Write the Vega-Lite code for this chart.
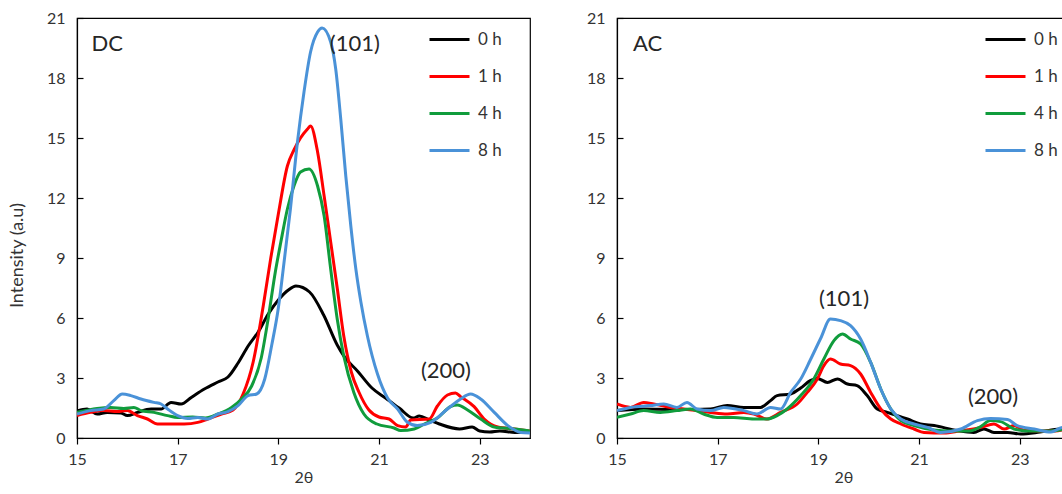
{
"$schema": "https://vega.github.io/schema/vega-lite/v6.json",
"background": "white",
"padding": {"left": 7, "top": 9, "right": 0, "bottom": 0},
"spacing": 54,
"config": {
  "font": "Lato",
  "view": {"stroke": "#000", "strokeWidth": 1.2},
  "axis": {"grid": false, "labelFlush": false, "domainColor": "#000", "domainWidth": 1.2, "tickColor": "#000", "tickWidth": 1.2, "labelFont": "Lato", "labelFontSize": 16, "labelColor": "#333", "titleFont": "Lato", "titleFontWeight": "normal", "titleColor": "#333"},
  "axisY": {"tickSize": -6, "labelPadding": 18, "titleFontSize": 18, "titlePadding": 11},
  "axisX": {"tickSize": 6, "labelPadding": 7, "titleFontSize": 16, "titlePadding": 2},
  "legend": {"orient": "none", "symbolType": "stroke", "symbolStrokeWidth": 3, "symbolSize": 1600, "labelFont": "Lato", "labelFontSize": 17, "labelColor": "#333", "labelOffset": 7, "rowPadding": 7}
},
"resolve": {"legend": {"color": "independent"}},
"datasets": {
  "dc": [
    {"t":15,"i":1.35,"s":"0 h"},{"t":15.2,"i":1.45,"s":"0 h"},{"t":15.4,"i":1.2,"s":"0 h"},{"t":15.6,"i":1.28,"s":"0 h"},{"t":15.87,"i":1.25,"s":"0 h"},{"t":16,"i":1.12,"s":"0 h"},{"t":16.2,"i":1.28,"s":"0 h"},{"t":16.47,"i":1.45,"s":"0 h"},{"t":16.67,"i":1.45,"s":"0 h"},{"t":16.87,"i":1.78,"s":"0 h"},{"t":17.07,"i":1.7,"s":"0 h"},{"t":17.27,"i":2.03,"s":"0 h"},{"t":17.53,"i":2.45,"s":"0 h"},{"t":17.8,"i":2.8,"s":"0 h"},{"t":18,"i":3.05,"s":"0 h"},{"t":18.2,"i":3.75,"s":"0 h"},{"t":18.4,"i":4.6,"s":"0 h"},{"t":18.6,"i":5.3,"s":"0 h"},{"t":18.8,"i":6.2,"s":"0 h"},{"t":19,"i":6.9,"s":"0 h"},{"t":19.2,"i":7.4,"s":"0 h"},{"t":19.35,"i":7.6,"s":"0 h"},{"t":19.62,"i":7.3,"s":"0 h"},{"t":19.9,"i":6.15,"s":"0 h"},{"t":20.17,"i":4.65,"s":"0 h"},{"t":20.31,"i":4.07,"s":"0 h"},{"t":20.58,"i":3.33,"s":"0 h"},{"t":20.86,"i":2.5,"s":"0 h"},{"t":21.13,"i":2.0,"s":"0 h"},{"t":21.4,"i":1.5,"s":"0 h"},{"t":21.68,"i":1.0,"s":"0 h"},{"t":21.8,"i":1.1,"s":"0 h"},{"t":22,"i":0.9,"s":"0 h"},{"t":22.2,"i":0.7,"s":"0 h"},{"t":22.6,"i":0.45,"s":"0 h"},{"t":22.85,"i":0.55,"s":"0 h"},{"t":23,"i":0.35,"s":"0 h"},{"t":23.2,"i":0.3,"s":"0 h"},{"t":23.4,"i":0.35,"s":"0 h"},{"t":23.7,"i":0.28,"s":"0 h"},{"t":24,"i":0.3,"s":"0 h"},
    {"t":15,"i":1.12,"s":"1 h"},{"t":15.27,"i":1.28,"s":"1 h"},{"t":15.53,"i":1.37,"s":"1 h"},{"t":15.8,"i":1.32,"s":"1 h"},{"t":16,"i":1.37,"s":"1 h"},{"t":16.2,"i":1.12,"s":"1 h"},{"t":16.4,"i":0.95,"s":"1 h"},{"t":16.6,"i":0.7,"s":"1 h"},{"t":16.87,"i":0.7,"s":"1 h"},{"t":17.13,"i":0.7,"s":"1 h"},{"t":17.4,"i":0.78,"s":"1 h"},{"t":17.6,"i":0.95,"s":"1 h"},{"t":17.87,"i":1.2,"s":"1 h"},{"t":18.1,"i":1.4,"s":"1 h"},{"t":18.3,"i":2.2,"s":"1 h"},{"t":18.5,"i":3.8,"s":"1 h"},{"t":18.7,"i":6.6,"s":"1 h"},{"t":18.85,"i":9.0,"s":"1 h"},{"t":19,"i":11.2,"s":"1 h"},{"t":19.18,"i":13.6,"s":"1 h"},{"t":19.31,"i":14.4,"s":"1 h"},{"t":19.44,"i":15.0,"s":"1 h"},{"t":19.58,"i":15.45,"s":"1 h"},{"t":19.64,"i":15.6,"s":"1 h"},{"t":19.78,"i":14.3,"s":"1 h"},{"t":19.91,"i":12.1,"s":"1 h"},{"t":20.04,"i":9.8,"s":"1 h"},{"t":20.17,"i":7.5,"s":"1 h"},{"t":20.3,"i":5.1,"s":"1 h"},{"t":20.45,"i":3.3,"s":"1 h"},{"t":20.6,"i":2.3,"s":"1 h"},{"t":20.8,"i":1.4,"s":"1 h"},{"t":21,"i":1.05,"s":"1 h"},{"t":21.2,"i":0.95,"s":"1 h"},{"t":21.37,"i":0.62,"s":"1 h"},{"t":21.53,"i":0.55,"s":"1 h"},{"t":21.63,"i":0.9,"s":"1 h"},{"t":22,"i":0.95,"s":"1 h"},{"t":22.16,"i":1.6,"s":"1 h"},{"t":22.36,"i":2.15,"s":"1 h"},{"t":22.52,"i":2.25,"s":"1 h"},{"t":22.62,"i":2.07,"s":"1 h"},{"t":22.89,"i":1.57,"s":"1 h"},{"t":23.09,"i":0.95,"s":"1 h"},{"t":23.36,"i":0.55,"s":"1 h"},{"t":23.69,"i":0.45,"s":"1 h"},{"t":24,"i":0.35,"s":"1 h"},
    {"t":15,"i":1.28,"s":"4 h"},{"t":15.4,"i":1.48,"s":"4 h"},{"t":15.67,"i":1.53,"s":"4 h"},{"t":15.93,"i":1.48,"s":"4 h"},{"t":16.13,"i":1.53,"s":"4 h"},{"t":16.27,"i":1.37,"s":"4 h"},{"t":16.53,"i":1.28,"s":"4 h"},{"t":16.8,"i":1.12,"s":"4 h"},{"t":17,"i":1.03,"s":"4 h"},{"t":17.3,"i":1.05,"s":"4 h"},{"t":17.55,"i":1.0,"s":"4 h"},{"t":17.8,"i":1.2,"s":"4 h"},{"t":18.07,"i":1.53,"s":"4 h"},{"t":18.27,"i":1.95,"s":"4 h"},{"t":18.47,"i":2.6,"s":"4 h"},{"t":18.66,"i":4.0,"s":"4 h"},{"t":18.8,"i":6.0,"s":"4 h"},{"t":18.94,"i":8.3,"s":"4 h"},{"t":19.05,"i":9.8,"s":"4 h"},{"t":19.18,"i":11.45,"s":"4 h"},{"t":19.31,"i":12.6,"s":"4 h"},{"t":19.44,"i":13.3,"s":"4 h"},{"t":19.61,"i":13.45,"s":"4 h"},{"t":19.78,"i":12.6,"s":"4 h"},{"t":19.91,"i":11.1,"s":"4 h"},{"t":20.04,"i":8.45,"s":"4 h"},{"t":20.17,"i":5.95,"s":"4 h"},{"t":20.3,"i":4.1,"s":"4 h"},{"t":20.5,"i":2.28,"s":"4 h"},{"t":20.7,"i":1.2,"s":"4 h"},{"t":20.96,"i":0.7,"s":"4 h"},{"t":21.3,"i":0.5,"s":"4 h"},{"t":21.43,"i":0.37,"s":"4 h"},{"t":21.7,"i":0.45,"s":"4 h"},{"t":21.9,"i":0.7,"s":"4 h"},{"t":22.16,"i":1.0,"s":"4 h"},{"t":22.42,"i":1.57,"s":"4 h"},{"t":22.56,"i":1.65,"s":"4 h"},{"t":22.76,"i":1.4,"s":"4 h"},{"t":23.02,"i":0.95,"s":"4 h"},{"t":23.29,"i":0.55,"s":"4 h"},{"t":23.69,"i":0.45,"s":"4 h"},{"t":24,"i":0.35,"s":"4 h"},
    {"t":15,"i":1.2,"s":"8 h"},{"t":15.27,"i":1.37,"s":"8 h"},{"t":15.53,"i":1.45,"s":"8 h"},{"t":15.73,"i":1.87,"s":"8 h"},{"t":15.9,"i":2.2,"s":"8 h"},{"t":16.07,"i":2.12,"s":"8 h"},{"t":16.27,"i":1.95,"s":"8 h"},{"t":16.53,"i":1.78,"s":"8 h"},{"t":16.67,"i":1.7,"s":"8 h"},{"t":16.8,"i":1.45,"s":"8 h"},{"t":17,"i":1.12,"s":"8 h"},{"t":17.2,"i":0.98,"s":"8 h"},{"t":17.4,"i":1.03,"s":"8 h"},{"t":17.6,"i":0.95,"s":"8 h"},{"t":17.8,"i":1.2,"s":"8 h"},{"t":18,"i":1.32,"s":"8 h"},{"t":18.2,"i":1.62,"s":"8 h"},{"t":18.4,"i":2.12,"s":"8 h"},{"t":18.57,"i":2.2,"s":"8 h"},{"t":18.73,"i":2.95,"s":"8 h"},{"t":18.87,"i":4.66,"s":"8 h"},{"t":19,"i":6.5,"s":"8 h"},{"t":19.05,"i":7.45,"s":"8 h"},{"t":19.24,"i":11.45,"s":"8 h"},{"t":19.38,"i":14.8,"s":"8 h"},{"t":19.51,"i":17.3,"s":"8 h"},{"t":19.64,"i":19.3,"s":"8 h"},{"t":19.78,"i":20.3,"s":"8 h"},{"t":19.87,"i":20.5,"s":"8 h"},{"t":20.04,"i":19.8,"s":"8 h"},{"t":20.14,"i":18.45,"s":"8 h"},{"t":20.24,"i":15.95,"s":"8 h"},{"t":20.34,"i":13.1,"s":"8 h"},{"t":20.44,"i":10.6,"s":"8 h"},{"t":20.54,"i":8.45,"s":"8 h"},{"t":20.64,"i":6.8,"s":"8 h"},{"t":20.77,"i":5.1,"s":"8 h"},{"t":20.97,"i":3.2,"s":"8 h"},{"t":21.17,"i":2.0,"s":"8 h"},{"t":21.37,"i":1.45,"s":"8 h"},{"t":21.56,"i":0.8,"s":"8 h"},{"t":21.76,"i":0.62,"s":"8 h"},{"t":22.03,"i":0.78,"s":"8 h"},{"t":22.36,"i":1.45,"s":"8 h"},{"t":22.62,"i":1.95,"s":"8 h"},{"t":22.82,"i":2.2,"s":"8 h"},{"t":23.02,"i":1.95,"s":"8 h"},{"t":23.29,"i":1.28,"s":"8 h"},{"t":23.56,"i":0.62,"s":"8 h"},{"t":23.82,"i":0.28,"s":"8 h"},{"t":24,"i":0.25,"s":"8 h"}
  ],
  "ac": [
    {"t":15,"i":1.37,"s":"0 h"},{"t":15.53,"i":1.45,"s":"0 h"},{"t":16.19,"i":1.42,"s":"0 h"},{"t":16.86,"i":1.45,"s":"0 h"},{"t":17.19,"i":1.62,"s":"0 h"},{"t":17.52,"i":1.53,"s":"0 h"},{"t":17.85,"i":1.53,"s":"0 h"},{"t":18.05,"i":1.87,"s":"0 h"},{"t":18.18,"i":2.12,"s":"0 h"},{"t":18.45,"i":2.2,"s":"0 h"},{"t":18.65,"i":2.5,"s":"0 h"},{"t":18.84,"i":2.87,"s":"0 h"},{"t":18.98,"i":2.98,"s":"0 h"},{"t":19.18,"i":2.78,"s":"0 h"},{"t":19.38,"i":2.95,"s":"0 h"},{"t":19.58,"i":2.7,"s":"0 h"},{"t":19.77,"i":2.62,"s":"0 h"},{"t":19.97,"i":2.12,"s":"0 h"},{"t":20.17,"i":1.45,"s":"0 h"},{"t":20.37,"i":1.28,"s":"0 h"},{"t":20.57,"i":1.12,"s":"0 h"},{"t":20.77,"i":0.95,"s":"0 h"},{"t":21.03,"i":0.7,"s":"0 h"},{"t":21.3,"i":0.62,"s":"0 h"},{"t":21.76,"i":0.37,"s":"0 h"},{"t":22.09,"i":0.28,"s":"0 h"},{"t":22.29,"i":0.45,"s":"0 h"},{"t":22.49,"i":0.28,"s":"0 h"},{"t":22.76,"i":0.28,"s":"0 h"},{"t":23.02,"i":0.2,"s":"0 h"},{"t":23.4,"i":0.3,"s":"0 h"},{"t":23.8,"i":0.45,"s":"0 h"},{"t":24,"i":0.45,"s":"0 h"},
    {"t":15,"i":1.7,"s":"1 h"},{"t":15.27,"i":1.53,"s":"1 h"},{"t":15.53,"i":1.78,"s":"1 h"},{"t":15.73,"i":1.7,"s":"1 h"},{"t":16.06,"i":1.53,"s":"1 h"},{"t":16.33,"i":1.45,"s":"1 h"},{"t":16.59,"i":1.37,"s":"1 h"},{"t":16.86,"i":1.28,"s":"1 h"},{"t":17.19,"i":1.2,"s":"1 h"},{"t":17.52,"i":1.28,"s":"1 h"},{"t":17.72,"i":1.2,"s":"1 h"},{"t":17.98,"i":0.95,"s":"1 h"},{"t":18.25,"i":1.28,"s":"1 h"},{"t":18.58,"i":1.7,"s":"1 h"},{"t":18.78,"i":2.28,"s":"1 h"},{"t":18.98,"i":2.95,"s":"1 h"},{"t":19.11,"i":3.62,"s":"1 h"},{"t":19.24,"i":3.95,"s":"1 h"},{"t":19.44,"i":3.7,"s":"1 h"},{"t":19.64,"i":3.62,"s":"1 h"},{"t":19.84,"i":3.2,"s":"1 h"},{"t":20.04,"i":2.28,"s":"1 h"},{"t":20.24,"i":1.45,"s":"1 h"},{"t":20.44,"i":0.95,"s":"1 h"},{"t":20.64,"i":0.7,"s":"1 h"},{"t":20.9,"i":0.45,"s":"1 h"},{"t":21.1,"i":0.28,"s":"1 h"},{"t":21.5,"i":0.25,"s":"1 h"},{"t":21.8,"i":0.35,"s":"1 h"},{"t":22.23,"i":0.53,"s":"1 h"},{"t":22.49,"i":0.7,"s":"1 h"},{"t":22.69,"i":0.45,"s":"1 h"},{"t":22.89,"i":0.62,"s":"1 h"},{"t":23.1,"i":0.37,"s":"1 h"},{"t":23.4,"i":0.35,"s":"1 h"},{"t":23.7,"i":0.35,"s":"1 h"},{"t":24,"i":0.5,"s":"1 h"},
    {"t":15,"i":1.03,"s":"4 h"},{"t":15.27,"i":1.2,"s":"4 h"},{"t":15.53,"i":1.37,"s":"4 h"},{"t":15.86,"i":1.28,"s":"4 h"},{"t":16.19,"i":1.37,"s":"4 h"},{"t":16.46,"i":1.45,"s":"4 h"},{"t":16.72,"i":1.2,"s":"4 h"},{"t":16.99,"i":1.03,"s":"4 h"},{"t":17.32,"i":1.03,"s":"4 h"},{"t":17.72,"i":0.95,"s":"4 h"},{"t":17.98,"i":0.95,"s":"4 h"},{"t":18.18,"i":1.12,"s":"4 h"},{"t":18.38,"i":1.45,"s":"4 h"},{"t":18.65,"i":2.12,"s":"4 h"},{"t":18.91,"i":2.95,"s":"4 h"},{"t":19.11,"i":3.95,"s":"4 h"},{"t":19.31,"i":4.87,"s":"4 h"},{"t":19.48,"i":5.2,"s":"4 h"},{"t":19.64,"i":4.95,"s":"4 h"},{"t":19.84,"i":4.7,"s":"4 h"},{"t":20.04,"i":3.78,"s":"4 h"},{"t":20.24,"i":2.45,"s":"4 h"},{"t":20.44,"i":1.45,"s":"4 h"},{"t":20.64,"i":0.87,"s":"4 h"},{"t":20.9,"i":0.62,"s":"4 h"},{"t":21.3,"i":0.4,"s":"4 h"},{"t":21.6,"i":0.35,"s":"4 h"},{"t":22,"i":0.35,"s":"4 h"},{"t":22.2,"i":0.53,"s":"4 h"},{"t":22.42,"i":0.87,"s":"4 h"},{"t":22.62,"i":0.82,"s":"4 h"},{"t":22.89,"i":0.45,"s":"4 h"},{"t":23.2,"i":0.35,"s":"4 h"},{"t":23.6,"i":0.35,"s":"4 h"},{"t":24,"i":0.5,"s":"4 h"},
    {"t":15,"i":1.37,"s":"8 h"},{"t":15.27,"i":1.53,"s":"8 h"},{"t":15.66,"i":1.62,"s":"8 h"},{"t":15.93,"i":1.7,"s":"8 h"},{"t":16.19,"i":1.53,"s":"8 h"},{"t":16.39,"i":1.78,"s":"8 h"},{"t":16.59,"i":1.45,"s":"8 h"},{"t":16.86,"i":1.37,"s":"8 h"},{"t":17.12,"i":1.53,"s":"8 h"},{"t":17.52,"i":1.37,"s":"8 h"},{"t":17.78,"i":1.2,"s":"8 h"},{"t":18.05,"i":1.53,"s":"8 h"},{"t":18.25,"i":1.45,"s":"8 h"},{"t":18.45,"i":2.28,"s":"8 h"},{"t":18.65,"i":2.95,"s":"8 h"},{"t":18.84,"i":3.9,"s":"8 h"},{"t":19.05,"i":5.0,"s":"8 h"},{"t":19.24,"i":5.95,"s":"8 h"},{"t":19.44,"i":5.87,"s":"8 h"},{"t":19.64,"i":5.62,"s":"8 h"},{"t":19.84,"i":4.95,"s":"8 h"},{"t":20.04,"i":3.78,"s":"8 h"},{"t":20.24,"i":2.45,"s":"8 h"},{"t":20.44,"i":1.45,"s":"8 h"},{"t":20.64,"i":0.95,"s":"8 h"},{"t":20.9,"i":0.7,"s":"8 h"},{"t":21.17,"i":0.53,"s":"8 h"},{"t":21.43,"i":0.28,"s":"8 h"},{"t":21.83,"i":0.45,"s":"8 h"},{"t":22.16,"i":0.87,"s":"8 h"},{"t":22.42,"i":0.98,"s":"8 h"},{"t":22.76,"i":0.92,"s":"8 h"},{"t":22.95,"i":0.62,"s":"8 h"},{"t":23.29,"i":0.45,"s":"8 h"},{"t":23.62,"i":0.3,"s":"8 h"},{"t":23.85,"i":0.53,"s":"8 h"},{"t":24,"i":0.45,"s":"8 h"}
  ],
  "dcLab": [
    {"t":15.6,"i":19.7,"label":"DC"},{"t":20.52,"i":19.7,"label":"(101)"},{"t":22.33,"i":3.35,"label":"(200)"}
  ],
  "acLab": [
    {"t":15.61,"i":19.7,"label":"AC"},{"t":19.51,"i":6.95,"label":"(101)"},{"t":22.47,"i":2.05,"label":"(200)"}
  ]
},
"hconcat": [
  {
    "width": 453, "height": 420,
    "layer": [
      {
        "data": {"name": "dc"},
        "mark": {"type": "line", "strokeWidth": 3, "clip": true, "interpolate": "monotone"},
        "encoding": {
          "x": {"field": "t", "type": "quantitative", "scale": {"domain": [15, 24], "nice": false}, "axis": {"values": [15, 17, 19, 21, 23], "title": "2θ"}},
          "y": {"field": "i", "type": "quantitative", "scale": {"domain": [0, 21], "nice": false}, "axis": {"values": [0, 3, 6, 9, 12, 15, 18, 21], "title": "Intensity (a.u)", "titleX": -51, "titleY": 237}},
          "color": {"field": "s", "type": "nominal", "scale": {"domain": ["0 h", "1 h", "4 h", "8 h"], "range": ["#000000", "#ff0000", "#109c3c", "#4a92d8"]}, "legend": {"title": null, "legendX": 351, "legendY": 0}}
        }
      },
      {
        "data": {"name": "dcLab"},
        "mark": {"type": "text", "fontSize": 22, "font": "Lato", "color": "#262626", "baseline": "middle", "align": "center"},
        "encoding": {
          "x": {"field": "t", "type": "quantitative"},
          "y": {"field": "i", "type": "quantitative"},
          "text": {"field": "label"}
        }
      }
    ]
  },
  {
    "width": 453, "height": 420,
    "layer": [
      {
        "data": {"name": "ac"},
        "mark": {"type": "line", "strokeWidth": 3, "clip": true, "interpolate": "monotone"},
        "encoding": {
          "x": {"field": "t", "type": "quantitative", "scale": {"domain": [15, 24], "nice": false}, "axis": {"values": [15, 17, 19, 21, 23], "title": "2θ"}},
          "y": {"field": "i", "type": "quantitative", "scale": {"domain": [0, 21], "nice": false}, "axis": {"values": [0, 3, 6, 9, 12, 15, 18, 21], "title": null}},
          "color": {"field": "s", "type": "nominal", "scale": {"domain": ["0 h", "1 h", "4 h", "8 h"], "range": ["#000000", "#ff0000", "#109c3c", "#4a92d8"]}, "legend": {"title": null, "legendX": 367, "legendY": 0}}
        }
      },
      {
        "data": {"name": "acLab"},
        "mark": {"type": "text", "fontSize": 22, "font": "Lato", "color": "#262626", "baseline": "middle", "align": "center"},
        "encoding": {
          "x": {"field": "t", "type": "quantitative"},
          "y": {"field": "i", "type": "quantitative"},
          "text": {"field": "label"}
        }
      }
    ]
  }
]
}
